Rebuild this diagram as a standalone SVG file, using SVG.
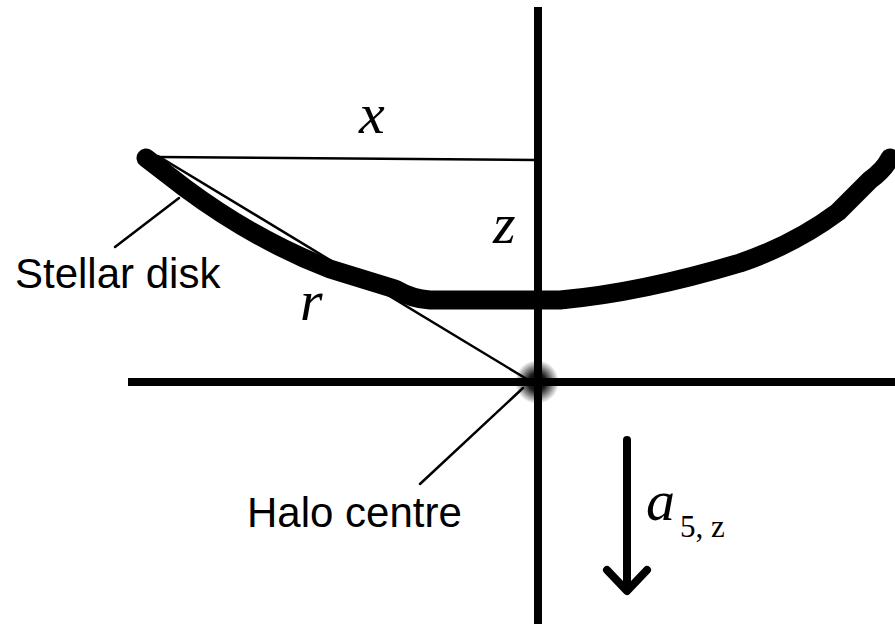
<svg xmlns="http://www.w3.org/2000/svg" width="895" height="624" viewBox="0 0 895 624">
<style>
.axis{stroke:#000;stroke-width:8;fill:none}
.thin{stroke:#000;stroke-width:2.5;fill:none;stroke-linecap:round}
.disk{stroke:#000;stroke-width:19;fill:none;stroke-linecap:round;stroke-linejoin:round}
.lbl{font-family:"Liberation Sans",Arial,sans-serif;font-size:42px;fill:#000}
.math{font-family:"Liberation Serif","Times New Roman",serif;font-style:italic;font-size:58px;fill:#000}
.sub{font-family:"Liberation Serif","Times New Roman",serif;font-size:31px;fill:#000}
</style>
<defs>
<radialGradient id="glow">
<stop offset="0" stop-color="#000" stop-opacity="1"/>
<stop offset="0.4" stop-color="#000" stop-opacity="0.9"/>
<stop offset="1" stop-color="#000" stop-opacity="0"/>
</radialGradient>
</defs>
<rect width="895" height="624" fill="#fff"/>
<g id="axes">
<line class="axis" x1="538" y1="7" x2="538" y2="624"/>
<line class="axis" x1="128" y1="382" x2="895" y2="382"/>
</g>
<g id="halo-centre">
<circle cx="537" cy="382" r="22" fill="url(#glow)"/>
</g>
<g id="stellar-disk">
<path class="disk" d="M146,158 L185,188 Q255,240 330,269 L395,289 Q412,299 430,300 L560,300 Q640,293 740,263 Q795,244 838,212 L870,180 Q884,170 890,158"/>
<rect x="427" y="291" width="140" height="18" fill="#000"/>
</g>
<g id="connectors">
<line class="thin" x1="158" y1="157" x2="536" y2="160"/>
<line class="thin" x1="158" y1="156" x2="530" y2="381"/>
<line class="thin" x1="115" y1="247" x2="179" y2="198"/>
<line class="thin" x1="420" y1="484" x2="523" y2="388"/>
<g id="accel-arrow" stroke="#000" stroke-width="8" stroke-linecap="round" stroke-linejoin="round" fill="none">
<line x1="627" y1="440" x2="627" y2="588"/>
<polyline points="607,570 627,591 647,570"/>
</g>
</g>
<g id="labels">
<text class="math" x="359" y="133">x</text>
<text class="math" x="493" y="243">z</text>
<text class="math" x="300" y="320">r</text>
<text class="math" x="646" y="520" font-size="62">a</text>
<text class="sub" x="680" y="537">5, z</text>
<text class="lbl" x="15" y="288">Stellar disk</text>
<text class="lbl" x="247" y="527">Halo centre</text>
</g>
</svg>
